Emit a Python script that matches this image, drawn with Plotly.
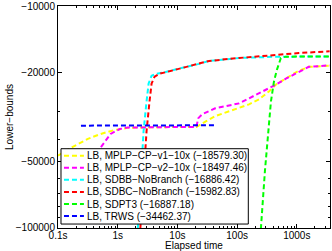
import math
import plotly.graph_objects as go

# ---------------- data ----------------
names = [
    "LB, MPLP−CP−v1−10x (−18579.30)",
    "LB, MPLP−CP−v2−10x (−18497.46)",
    "LB, SDBB−NoBranch (−16886.42)",
    "LB, SDBC−NoBranch (−15982.83)",
    "LB, SDPT3 (−16887.18)",
    "LB, TRWS (−34462.37)",
]
colors = ["#ffff00", "#ff00ff", "#00ffff", "#ff0000", "#00ff00", "#0000ff"]

mplp_v1_t = [0.1, 0.165, 0.316, 0.52, 0.89, 1.47, 3.0, 10, 20.7, 30.4, 38.3, 43, 73.6, 158, 233, 341, 447, 656, 1000, 1585, 3548]
mplp_v1_lb = [-47230, -43520, -39680, -37700, -36180, -35400, -35150, -35100, -35100, -33000, -32000, -31350, -29790, -27730, -26340, -24260, -22590, -21240, -19770, -18780, -18579.30]

mplp_v2_t = [0.45, 0.5, 0.76, 1.08, 1.47, 3.0, 10, 20.7, 22.4, 26.1, 43, 108, 158, 304, 447, 656, 1080, 1585, 3548]
mplp_v2_lb = [-60000, -43970, -37700, -35820, -35300, -35150, -35100, -35100, -32000, -30720, -28880, -27450, -26070, -23770, -22590, -21240, -19770, -18780, -18497.46]

sdbb_t = [2.05, 2.71, 3.04, 3.29, 3.69, 4.5, 6.1, 7.9, 12.1, 23, 34, 108, 233, 500, 3548]
sdbb_lb = [-130000, -36560, -26890, -22340, -20600, -20180, -19870, -19570, -18970, -18210, -17660, -17130, -16950, -16890, -16886.42]

sdbc_t = [2.25, 3.04, 3.41, 3.69, 4.14, 5.01, 7.9, 12.1, 23, 34, 108, 233, 341, 1080, 3548]
sdbc_lb = [-130000, -36560, -26890, -22340, -20820, -20180, -19570, -18970, -18210, -17660, -17130, -16850, -16610, -16270, -15982.83]

sdpt3_t = [240, 251, 293, 329, 369, 414, 464, 541, 656, 3548]
sdpt3_lb = [-130000, -99800, -55080, -36560, -26890, -21900, -19370, -17130, -16890, -16887.18]

trws_t = [0.242, 1, 10, 43]
trws_lb = [-34600, -34550, -34500, -34462.37]

x_tickvals = [0.1, 1, 10, 100, 1000]
x_ticktext = ["0.1s", "1s", "10s", "100s", "1000s"]
y_tickvals = [10000, 20000, 50000, 100000]
y_ticktext = ["−10000", "−20000", "−50000", "−100000"]

# ---------------- figure ----------------
FONT = "Liberation Sans, Arial, Helvetica, sans-serif"
W, H = 332, 251
L, R, T, B = 58, 1, 4, 23
PW, PH = W - L - R, H - T - B
EPS = 0.0008

def px_x(p):
    return (p - L) / PW

def px_y(p):
    return 1 - (p - T) / PH

series = [
    (mplp_v1_t, mplp_v1_lb),
    (mplp_v2_t, mplp_v2_lb),
    (sdbb_t, sdbb_lb),
    (sdbc_t, sdbc_lb),
    (sdpt3_t, sdpt3_lb),
    (trws_t, trws_lb),
]

fig = go.Figure()
for (t, lb), name, c in zip(series, names, colors):
    fig.add_trace(go.Scatter(
        x=t, y=[-v for v in lb], mode="lines", name=name,
        line=dict(color=c, width=2, dash="5px,3px"),
        showlegend=False, cliponaxis=True,
    ))

x_minor = [m * 10 ** e for e in range(-1, 4) for m in range(2, 10) if m * 10 ** e <= 3600]
y_minor = [m * 10000 for m in range(3, 10) if m != 5]

fig.update_layout(
    width=W, height=H,
    margin=dict(l=L, r=R, t=T, b=B),
    paper_bgcolor="white", plot_bgcolor="white",
    font=dict(family=FONT, size=10, color="black"),
    xaxis=dict(
        type="log", range=[-1 - EPS, math.log10(3600)],
        tickmode="array", tickvals=x_tickvals, ticktext=x_ticktext,
        ticks="inside", ticklen=4, tickcolor="black",
        showline=True, linecolor="black", linewidth=1, mirror="allticks",
        showgrid=False, zeroline=False, ticklabeloverflow="allow",
        ticklabelstandoff=-2,
        minor=dict(tickvals=x_minor, ticks="inside", ticklen=2, tickcolor="black", showgrid=False),
        title=dict(text="Elapsed time", font=dict(size=10), standoff=0),
        tickfont=dict(size=10),
    ),
    yaxis=dict(
        type="log", range=[5 + EPS, 4 - EPS],
        tickmode="array", tickvals=y_tickvals, ticktext=y_ticktext,
        ticks="inside", ticklen=4, tickcolor="black",
        showline=True, linecolor="black", linewidth=1, mirror="allticks",
        showgrid=False, zeroline=False, ticklabeloverflow="allow",
        minor=dict(tickvals=y_minor, ticks="inside", ticklen=2, tickcolor="black", showgrid=False),
        title=dict(text="Lower−bounds", font=dict(size=10), standoff=0),
        tickfont=dict(size=10),
    ),
    showlegend=False,
)

# manual MATLAB-style legend box
shapes = [dict(type="rect", xref="paper", yref="paper",
               x0=px_x(61), x1=px_x(249), y0=px_y(224), y1=px_y(148),
               fillcolor="white", line=dict(color="black", width=1), layer="above")]
annotations = []
for i, (name, c) in enumerate(zip(names, colors)):
    yy = px_y(155 + 12.2 * i)
    shapes.append(dict(type="line", xref="paper", yref="paper",
                       x0=px_x(64), x1=px_x(84), y0=yy, y1=yy,
                       line=dict(color=c, width=2, dash="5px,3px"), layer="above"))
    annotations.append(dict(xref="paper", yref="paper", x=px_x(85), y=yy,
                            xanchor="left", yanchor="middle", text=name,
                            showarrow=False, font=dict(size=10, family=FONT, color="black")))
fig.update_layout(shapes=shapes, annotations=annotations)

fig.write_html("out.html", config={"displayModeBar": False},
               post_script="document.body.style.margin='0';document.body.style.padding='0';")
